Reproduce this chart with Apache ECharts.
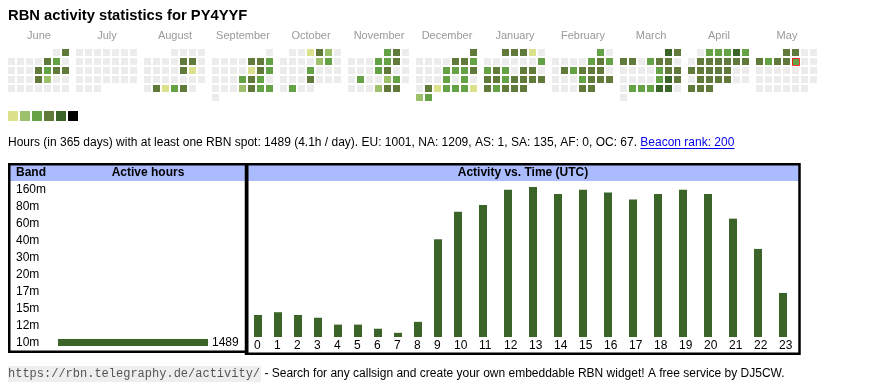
<!DOCTYPE html>
<html><head><meta charset="utf-8">
<script src="https://cdn.jsdelivr.net/npm/echarts@6/dist/echarts.min.js"></script>
<style>html,body{margin:0;padding:0;background:#fff}#c{width:870px;height:390px}</style>
</head><body><div id="c"></div>
<script>
// ---------- data ----------
const titleText = 'RBN activity statistics for PY4YYF';
const monthNames = ['June','July','August','September','October','November','December','January','February','March','April','May'];
const monthKeys = ['2024-06','2024-07','2024-08','2024-09','2024-10','2024-11','2024-12','2025-01','2025-02','2025-03','2025-04','2025-05'];
// activity level per day of month (0 = none, 1..6 = legend step)
const jun = [0,4, 0,0,0,0,4,3,0, 0,0,0,4,3,4,4, 0,0,0,4,2,0,0, 0,0,0,0,0,0,0];
const jul = [0,0,0,0,0,0,0, 0,0,0,0,0,0,0, 0,0,0,0,0,0,0, 0,0,0,0,0,0,0, 0,0,0];
const aug = [0,0,0,0, 0,0,0,0,4,4,0, 0,0,0,0,4,1,0, 0,0,0,0,0,0,0, 0,4,1,3,4,0];
const sep = [0, 0,0,0,0,4,4,3, 0,0,0,0,1,4,3, 0,0,0,3,4,3,0, 0,0,0,2,4,3,3, 0];
const oct = [0,0,1,4,2,0, 0,0,0,0,2,3,0, 0,0,0,3,0,0,0, 0,0,0,4,0,0,0, 0,3,0,0];
const nov = [3,4,0, 0,0,0,3,3,4,0, 0,0,0,3,4,0,0, 0,3,0,0,2,3,0, 0,0,0,2,4,4];
const dec = [4, 0,0,0,0,4,4,3, 0,0,0,3,3,3,4, 0,0,0,3,0,3,0, 0,4,1,3,3,3,1, 2,3];
const jan = [4,4,4,1,0, 0,0,0,0,0,0,3, 3,4,3,0,4,4,0, 4,4,3,4,4,4,4, 4,3,4,4,4];
const feb = [3,0, 0,0,0,0,3,4,3, 0,4,3,4,4,4,0, 0,0,0,3,4,4,4, 0,0,0,4,4];
const mar = [5,4, 4,4,0,3,4,4,0, 0,0,0,0,3,4,4, 0,0,0,0,3,5,4, 0,3,3,3,5,5,0, 0];
const apr = [0,3,3,3,5,3, 0,4,4,4,4,4,4, 4,4,4,4,4,0,0, 0,4,4,4,4,0,0, 4,4,4];
const may = [4,4,0,0, 4,3,4,4,3,0,0, 0,0,0,0,0,0,0, 0,0,0,0,0,0,0, 0,0,0,0,0,0];
const monthLevels = [jun,jul,aug,sep,oct,nov,dec,jan,feb,mar,apr,may];
const today = '2025-05-09';
const levelValues = [1,2,3,4,5,6];
const levelColors = ['#dce18b','#9dc16b','#65a145','#627a39','#3a6428','#000000'];

const bands = ['160m','80m','60m','40m','30m','20m','17m','15m','12m','10m'];
const bandHours = [0,0,0,0,0,0,0,0,0,1489];

const hoursEarly = ['0','1','2','3','4','5','6','7','8','9'];
const hoursLate = ['10','11','12','13','14','15','16','17','18','19','20','21','22','23'];
const activityEarly = [16,18,16,14,9,9,6,3,11,71];
const activityLate = [91,96,107,109,104,107,105,100,104,107,104,86,64,32];

const summaryText = 'Hours (in 365 days) with at least one RBN spot: 1489 (4.1h / day). EU: 1001, NA: 1209, AS: 1, SA: 135, AF: 0, OC: 67. ';
const linkText = 'Beacon rank: 200';
const footerUrl = 'https://rbn.telegraphy.de/activity/';
const footerText = ' - Search for any callsign and create your own embeddable RBN widget! A free service by DJ5CW.';
const headBand = 'Band', headHours = 'Active hours', headTime = 'Activity vs. Time (UTC)';

// ---------- build ----------
const FF = '"Liberation Sans", Arial, Helvetica, sans-serif';
const MONO = '"Liberation Mono", "DejaVu Sans Mono", monospace';
const barColor = '#3a6428';
const ctx = document.createElement('canvas').getContext('2d');
function measure(t, font){ ctx.font = font; return ctx.measureText(t).width; }
const pad = n => (n < 10 ? '0' : '') + n;

const calendars = [], heatSeries = [], monthTexts = [];
monthKeys.forEach((key, i) => {
  const left = 7 + 68 * i;
  calendars.push({
    orient: 'vertical', range: key, left: left, top: 48, cellSize: [9, 9],
    splitLine: { show: false },
    itemStyle: { color: '#ececec', borderColor: '#ffffff', borderWidth: 2 },
    dayLabel: { show: false, firstDay: 1 },
    monthLabel: { show: false }, yearLabel: { show: false }
  });
  const data = [];
  monthLevels[i].forEach((lv, d) => {
    if (lv > 0) data.push([key + '-' + pad(d + 1), lv]);
  });
  heatSeries.push({
    type: 'heatmap', coordinateSystem: 'calendar', calendarIndex: i, data: data, silent: true,
    itemStyle: { borderWidth: 0 }
  });
  monthTexts.push({ type: 'text', silent: true, style: {
    x: left + 32, y: 35.5, text: monthNames[i], align: 'center', verticalAlign: 'middle',
    font: '11px ' + FF, fill: '#999999' } });
});
const todayCal = monthKeys.indexOf(today.slice(0, 7));

const sumFont = '12px ' + FF;
const sumW = measure(summaryText, sumFont);
const linkW = measure(linkText, sumFont);
const urlFont = '12px ' + MONO;
const urlW = measure(footerUrl, urlFont);

const graphics = [
  { type: 'text', silent: true, style: { x: 8, y: 15.5, text: titleText, verticalAlign: 'middle', font: 'bold 14.75px ' + FF, fill: '#000' } },
  ...monthTexts,
  { type: 'text', silent: true, style: { x: 8, y: 142.5, text: summaryText, verticalAlign: 'middle', font: sumFont, fill: '#000' } },
  { type: 'text', silent: true, style: { x: 8 + sumW, y: 142.5, text: linkText, verticalAlign: 'middle', font: sumFont, fill: '#0000ee' } },
  { type: 'line', silent: true, shape: { x1: 8 + sumW, y1: 148.5, x2: 8 + sumW + linkW, y2: 148.5 }, style: { stroke: '#0000ee', lineWidth: 1 } },
  // table headers
  { type: 'rect', silent: true, shape: { x: 9, y: 164, width: 238, height: 17 }, style: { fill: '#aabbff' } },
  { type: 'rect', silent: true, shape: { x: 246, y: 164, width: 553, height: 17 }, style: { fill: '#aabbff' } },
  { type: 'text', silent: true, style: { x: 16, y: 173, text: headBand, verticalAlign: 'middle', font: 'bold 12px ' + FF, fill: '#000' } },
  { type: 'text', silent: true, style: { x: 148, y: 173, text: headHours, align: 'center', verticalAlign: 'middle', font: 'bold 12px ' + FF, fill: '#000' } },
  { type: 'text', silent: true, style: { x: 523, y: 173, text: headTime, align: 'center', verticalAlign: 'middle', font: 'bold 12px ' + FF, fill: '#000' } },
  { type: 'rect', silent: true, shape: { x: 9.25, y: 164.25, width: 238, height: 187.5 }, style: { fill: 'none', stroke: '#000', lineWidth: 2.5 } },
  { type: 'rect', silent: true, shape: { x: 246, y: 164.25, width: 553.5, height: 189.5 }, style: { fill: 'none', stroke: '#000', lineWidth: 2.5 } },
  // footer
  { type: 'rect', silent: true, shape: { x: 8, y: 366, width: urlW + 1, height: 16 }, style: { fill: '#eeeeee' } },
  { type: 'text', silent: true, style: { x: 8, y: 374, text: footerUrl, verticalAlign: 'middle', font: urlFont, fill: '#555555' } },
  { type: 'text', silent: true, style: { x: 8 + urlW + 1, y: 374, text: footerText, verticalAlign: 'middle', font: sumFont, fill: '#000' } }
];

const hourAxisLabel = {
  interval: 0, margin: 3, formatter: '{a|{value}}',
  rich: { a: { width: 8, align: 'left', fontSize: 12, fontFamily: FF, color: '#000' } }
};
const actMax = Math.max(...activityEarly, ...activityLate);

const option = {
  animation: false,
  backgroundColor: '#ffffff',
  calendar: calendars,
  visualMap: {
    type: 'piecewise', seriesIndex: heatSeries.map((s, i) => i), orient: 'horizontal',
    left: 8, top: 111, padding: 0, itemWidth: 10, itemHeight: 10, itemGap: 2, itemSymbol: 'rect',
    showLabel: false, selectedMode: false,
    pieces: levelValues.map((v, i) => ({ value: v, color: levelColors[i] }))
  },
  grid: [
    { left: 58, top: 181, width: 150, height: 170 },
    { left: 248, top: 187, width: 200, height: 150 },
    { left: 445.5, top: 187, width: 350, height: 150 }
  ],
  xAxis: [
    { gridIndex: 0, type: 'value', min: 0, max: Math.max(...bandHours), show: false },
    { gridIndex: 1, type: 'category', data: hoursEarly, axisLine: { show: false }, axisTick: { show: false }, axisLabel: hourAxisLabel },
    { gridIndex: 2, type: 'category', data: hoursLate, axisLine: { show: false }, axisTick: { show: false }, axisLabel: hourAxisLabel }
  ],
  yAxis: [
    { gridIndex: 0, type: 'category', data: bands, inverse: true, axisLine: { show: false }, axisTick: { show: false },
      axisLabel: { align: 'left', margin: 42, fontSize: 12, fontFamily: FF, color: '#000', interval: 0 } },
    { gridIndex: 1, type: 'value', min: 0, max: actMax, show: false, splitLine: { show: false } },
    { gridIndex: 2, type: 'value', min: 0, max: actMax, show: false, splitLine: { show: false } }
  ],
  series: [
    ...heatSeries,
    { type: 'scatter', coordinateSystem: 'calendar', calendarIndex: todayCal, data: [[today, 1]], silent: true,
      symbol: 'rect', symbolSize: 7, symbolOffset: [0.5, 0.5], z: 5,
      itemStyle: { color: 'rgba(0,0,0,0)', borderColor: '#ff0000', borderWidth: 1 } },
    { type: 'bar', xAxisIndex: 0, yAxisIndex: 0, data: bandHours, barWidth: 7, silent: true,
      itemStyle: { color: barColor },
      label: { show: true, position: 'right', distance: 4, fontSize: 12, fontFamily: FF, color: '#000',
        formatter: p => (p.value > 0 ? String(p.value) : '') } },
    { type: 'bar', xAxisIndex: 1, yAxisIndex: 1, data: activityEarly, barWidth: 8, silent: true, itemStyle: { color: barColor } },
    { type: 'bar', xAxisIndex: 2, yAxisIndex: 2, data: activityLate, barWidth: 8, silent: true, itemStyle: { color: barColor } }
  ],
  graphic: { elements: graphics }
};
const chart = echarts.init(document.getElementById('c'), null, { renderer: 'canvas' });
chart.setOption(option);
</script>
</body></html>
